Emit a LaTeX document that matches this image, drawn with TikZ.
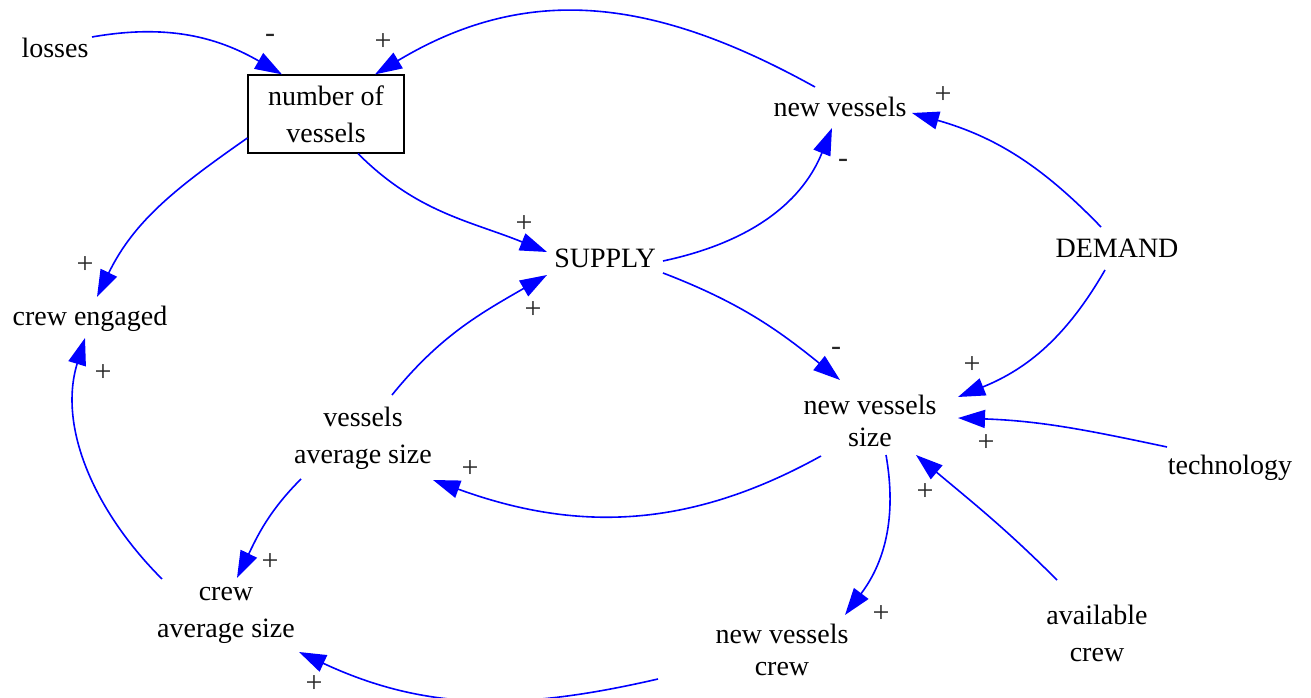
\documentclass[tikz,border=0pt]{standalone}
\usepackage{fontspec}
\setmainfont{Liberation Serif}
\usetikzlibrary{arrows.meta}
\begin{document}
\begin{tikzpicture}[x=1pt,y=1pt,
 var/.style={font=\fontsize{28}{37}\selectfont, align=center, inner sep=0pt},
 tight/.style={font=\fontsize{28}{32}\selectfont, align=center, inner sep=0pt},
 stock/.style={draw, line width=1.2pt, minimum width=156pt, minimum height=78pt, inner sep=0pt, align=center, font=\fontsize{28}{37}\selectfont},
 link/.style={color=blue, line width=1.6pt, -{Triangle[length=27pt,width=18pt]}},
 sgn/.style={font=\fontsize{30}{30}\selectfont, inner sep=0pt, text=black!85}
]
\useasboundingbox (0,0) rectangle (1311,698);

% variables
\node[var] (losses) at (55,650) {losses};
\node[stock] (nov) at (326,584) {number of\\vessels};
\node[var] (nv) at (840,591) {new vessels};
\node[var] (supply) at (605,440) {SUPPLY};
\node[var] (demand) at (1117,450) {DEMAND};
\node[var] (ce) at (90,379) {crew engaged};
\node[tight] (nvs) at (870,277) {new vessels\\size};
\node[var] (tech) at (1230,230) {technology};
\node[var] (vas) at (363,260) {vessels\\average size};
\node[var] (cas) at (226,83) {crew\\average size};
\node[tight] (nvc) at (782,48) {new vessels\\crew};
\node[var] (avail) at (1097,65) {available\\crew};

% links
\draw[link] ([shift={(37,11)}]losses.center) to[out=10,in=150] ([xshift=-44]nov.north);
\draw[link] ([shift={(-25,20)}]nv.center) to[out=151,in=31,looseness=1.05] ([xshift=49]nov.north);
\draw[link] ([yshift=-24]nov.west) to[out=215,in=64] ([shift={(7,22)}]ce.center);
\draw[link] ([xshift=32]nov.south) to[out=-45,in=158] ([shift={(-58,6)}]supply.center);
\draw[link] ([shift={(58,-3)}]supply.center) to[out=12,in=248] ([shift={(-8,-21)}]nv.center);
\draw[link] ([shift={(-16,21)}]demand.center) to[out=134,in=-16] ([shift={(72,-6)}]nv.center);
\draw[link] ([shift={(-12,-22)}]demand.center) to[out=240,in=22] ([shift={(88,24)}]nvs.center);
\draw[link] ([shift={(-63,21)}]tech.center) to[out=168,in=-2] ([shift={(88,3)}]nvs.center);
\draw[link] ([shift={(-40,53)}]avail.center) to[out=135,in=-40] ([shift={(46,-34)}]nvs.center);
\draw[link] ([shift={(58,-15)}]supply.center) to[out=-21,in=141] ([shift={(-30,41)}]nvs.center);
\draw[link] ([shift={(29,43)}]vas.center) to[out=51,in=210] ([shift={(-58,-17)}]supply.center);
\draw[link] ([shift={(-49,-35)}]nvs.center) to[out=209,in=-20] ([shift={(70,-42)}]vas.center);
\draw[link] ([shift={(16,-34)}]nvs.center) to[out=280,in=53] ([shift={(63,35)}]nvc.center);
\draw[link] ([shift={(-62,-41)}]vas.center) to[out=225,in=64] ([shift={(11,37)}]cas.center);
\draw[link] ([shift={(-64,36)}]cas.center) to[out=135,in=253,looseness=0.95] ([shift={(-5,-19)}]ce.center);
\draw[link] ([shift={(-124,-29)}]nvc.center) to[out=193,in=-25] ([shift={(73,-37)}]cas.center);

% polarity signs
\node[sgn] (p1) at (270,660) {-};
\node[sgn] (p2) at (383,656) {+};
\node[sgn] (p3) at (85,433) {+};
\node[sgn] (p4) at (524,474) {+};
\node[sgn] (p5) at (843,535) {-};
\node[sgn] (p6) at (943,603) {+};
\node[sgn] (p7) at (972,333) {+};
\node[sgn] (p8) at (986,255) {+};
\node[sgn] (p9) at (925,206) {+};
\node[sgn] (p10) at (836,347) {-};
\node[sgn] (p11) at (533,388) {+};
\node[sgn] (p12) at (470,229) {+};
\node[sgn] (p13) at (881,84) {+};
\node[sgn] (p14) at (270,136) {+};
\node[sgn] (p15) at (103,325) {+};
\node[sgn] (p16) at (314,14) {+};
\end{tikzpicture}
\end{document}
